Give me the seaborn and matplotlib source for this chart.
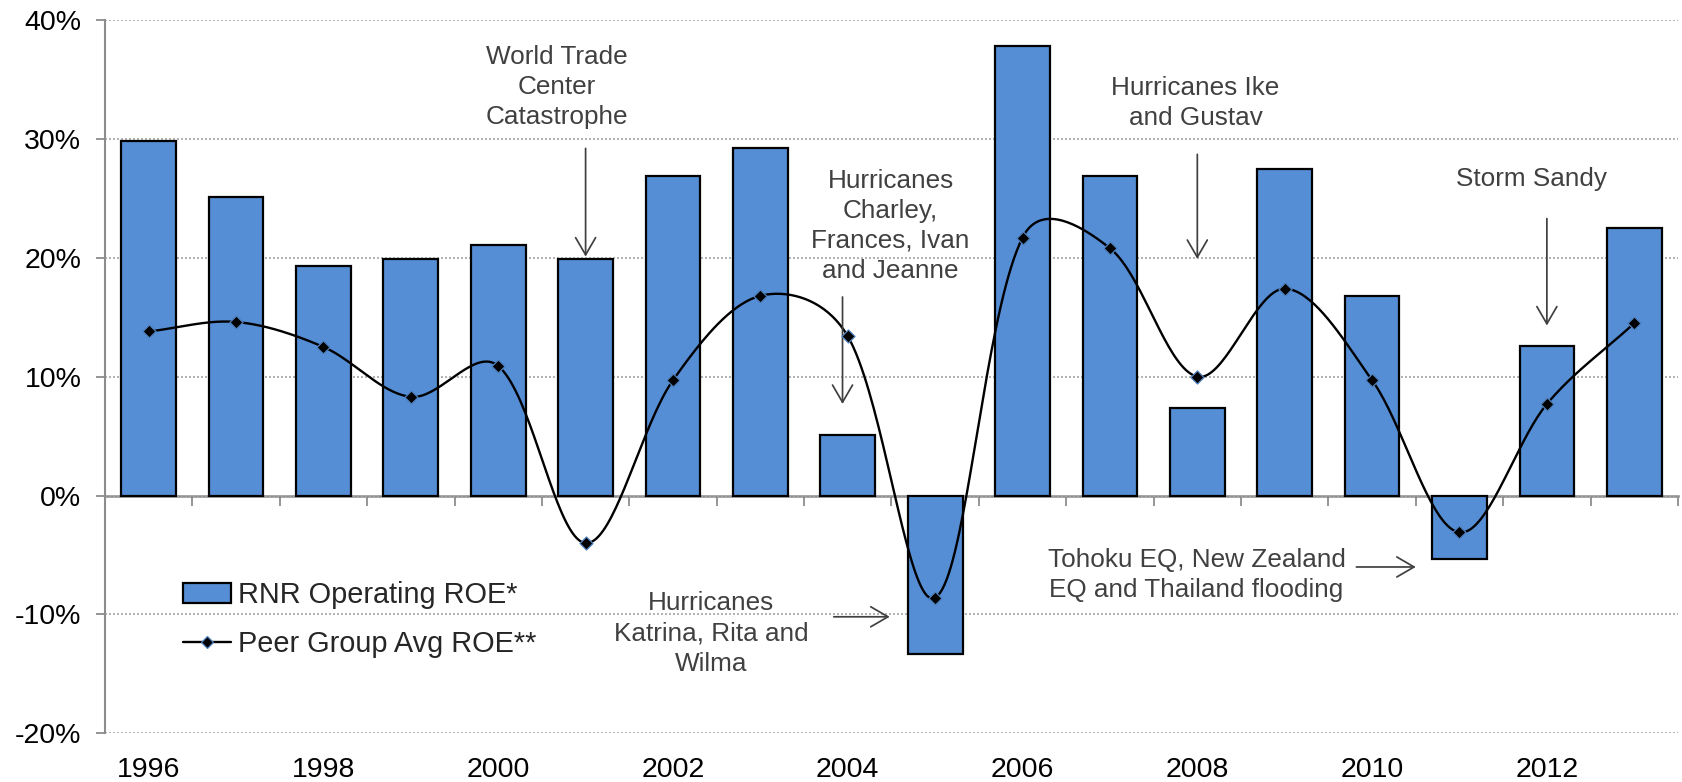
import numpy as np
import matplotlib
matplotlib.use("Agg")
import matplotlib.pyplot as plt
from matplotlib.patches import Patch
from matplotlib.lines import Line2D
import seaborn as sns

# ---- data -------------------------------------------------------------
years = [str(y) for y in range(1996, 2014)]
rnr_operating_roe = [29.8, 25.1, 19.3, 19.9, 21.1, 19.9, 26.9, 29.2, 5.1,
                     -13.3, 37.8, 26.9, 7.4, 27.5, 16.8, -5.3, 12.6, 22.5]
peer_group_roe = [13.8, 14.6, 12.5, 8.3, 10.9, -4.0, 9.7, 16.8, 13.4,
                  -8.6, 21.7, 20.8, 10.0, 17.4, 9.7, -3.1, 7.7, 14.5]
y_ticks = [-20, -10, 0, 10, 20, 30, 40]
y_tick_labels = ["-20%", "-10%", "0%", "10%", "20%", "30%", "40%"]
x_tick_labels = [y if i % 2 == 0 else "" for i, y in enumerate(years)]
legend_labels = ["RNR Operating ROE*", "Peer Group Avg ROE**"]

BAR_BLUE = "#558ED5"
GREY_TXT = "#404040"
AXIS_GREY = "#8C8C8C"
MARKER_EDGE = "#4F81BD"


def smooth_curve(ax, xs, ys, n=40):
    """Bezier smoothing through the points, built in display space with
    tangents weighted by neighbouring chord lengths."""
    pix = ax.transData.transform(np.column_stack([xs, ys]))
    ext = np.vstack([pix[0], pix, pix[-1]])
    t = np.linspace(0, 1, n)[:, None]
    parts = []
    for i in range(len(pix) - 1):
        p0, p1, p2, p3 = ext[i], ext[i + 1], ext[i + 2], ext[i + 3]
        d01 = np.sqrt(np.hypot(*(p1 - p0)))
        d12 = np.sqrt(np.hypot(*(p2 - p1)))
        d23 = np.sqrt(np.hypot(*(p3 - p2)))
        w1 = d12 / (d01 + d12)
        w2 = d12 / (d12 + d23)
        c1 = p1 + (p2 - p0) * w1 / 3.0
        c2 = p2 - (p3 - p1) * w2 / 3.0
        seg = ((1 - t) ** 3) * p1 + 3 * ((1 - t) ** 2) * t * c1 \
            + 3 * (1 - t) * t ** 2 * c2 + t ** 3 * p2
        parts.append(seg if i == 0 else seg[1:])
    return ax.transData.inverted().transform(np.vstack(parts))


sns.set_theme(style="white")
plt.rcParams["font.family"] = ["Liberation Sans", "DejaVu Sans"]

fig = plt.figure(figsize=(16.82, 7.82), dpi=100)
ax = fig.add_axes([0.0624, 0.0623, 0.9352, 0.9121])

# bars
sns.barplot(x=years, y=rnr_operating_roe, color=BAR_BLUE, saturation=1,
            edgecolor="black", linewidth=1.6, width=0.626, errorbar=None,
            ax=ax, zorder=2)

ax.set_xlim(-0.5, len(years) - 0.5)
ax.set_ylim(-20, 40)

# smoothed peer-group curve with markers at the yearly values
pos = np.arange(len(peer_group_roe), dtype=float)
curve = smooth_curve(ax, pos, peer_group_roe)
sns.lineplot(x=curve[:, 0], y=curve[:, 1], sort=False, estimator=None,
             color="black", linewidth=1.7, ax=ax, zorder=3)
sns.scatterplot(x=pos, y=peer_group_roe, marker="D", s=44, color="black",
                edgecolor=MARKER_EDGE, linewidth=0.9, ax=ax, zorder=4)

# axes styling
ax.set_yticks(y_ticks)
ax.set_yticklabels(y_tick_labels, fontsize=20.5, color="black")
ax.set_xticks(pos)
ax.set_xticklabels(x_tick_labels, fontsize=20.5, color="black")
ax.tick_params(axis="x", length=0, pad=17)
ax.tick_params(axis="y", length=6.5, width=1.3, color=AXIS_GREY, pad=10.5,
               direction="out", left=True)
ax.set_xlabel("")
ax.set_ylabel("")
for side in ["top", "right", "bottom"]:
    ax.spines[side].set_visible(False)
ax.spines["left"].set_color(AXIS_GREY)
ax.spines["left"].set_linewidth(1.5)
ax.set_axisbelow(True)
ax.yaxis.grid(True, linestyle=(0, (1.2, 1.2)), color="#A6A6A6", linewidth=1.2)
ax.xaxis.grid(False)

# zero line with category boundary tick marks
zero_axis = ax.secondary_xaxis(1 / 3)
zero_axis.set_alignment("bottom")
zero_axis.set_xticks(np.arange(-0.5, len(years), 1.0))
zero_axis.tick_params(axis="x", direction="out", length=7, width=1.3,
                      color=AXIS_GREY, labelbottom=False, labeltop=False)
zero_axis.spines["bottom"].set_color(AXIS_GREY)
zero_axis.spines["bottom"].set_linewidth(1.8)
zero_axis.spines["bottom"].set_zorder(5)

# event annotations
ann_kw = dict(fontsize=18.8, color=GREY_TXT, ha="center", va="center",
              linespacing=1.32, zorder=6)
arrow_kw = dict(arrowstyle="->,head_length=0.62,head_width=0.36",
                color=GREY_TXT, lw=1.25, shrinkA=0, shrinkB=0,
                mutation_scale=20)

ax.text(4.67, 34.4, "World Trade\nCenter\nCatastrophe", **ann_kw)
ax.annotate("", xy=(5.0, 20.1), xytext=(5.0, 29.2), arrowprops=arrow_kw)

ax.text(8.49, 22.7, "Hurricanes\nCharley,\nFrances, Ivan\nand Jeanne", **ann_kw)
ax.annotate("", xy=(7.94, 7.7), xytext=(7.94, 16.7), arrowprops=arrow_kw)

ax.text(11.98, 33.0, "Hurricanes Ike\nand Gustav", **ann_kw)
ax.annotate("", xy=(12.0, 19.9), xytext=(12.0, 28.7), arrowprops=arrow_kw)

ax.text(15.82, 26.6, "Storm Sandy", **ann_kw)
ax.annotate("", xy=(16.0, 14.3), xytext=(16.0, 23.3), arrowprops=arrow_kw)

ax.text(6.44, -11.6, "Hurricanes\nKatrina, Rita and\nWilma", **ann_kw)
ax.annotate("", xy=(8.48, -10.2), xytext=(7.84, -10.2), arrowprops=arrow_kw)

ax.text(11.99, -6.71, "Tohoku EQ, New Zealand\nEQ and Thailand flooding", **ann_kw)
ax.annotate("", xy=(14.5, -6.01), xytext=(13.82, -6.01), arrowprops=arrow_kw)

# legend
handles = [
    Patch(facecolor=BAR_BLUE, edgecolor="black", linewidth=1.6),
    Line2D([0], [0], color="black", linewidth=1.7, marker="D",
           markersize=6.6, markerfacecolor="black",
           markeredgecolor=MARKER_EDGE, markeredgewidth=0.9),
]
ax.legend(handles, legend_labels, loc="center left",
          bbox_to_anchor=(0.0498, 0.1595), frameon=False, fontsize=20.8,
          handlelength=1.66, handletextpad=0.22, labelspacing=0.70,
          borderpad=0, borderaxespad=0)

fig.savefig("out.png", dpi=100)
